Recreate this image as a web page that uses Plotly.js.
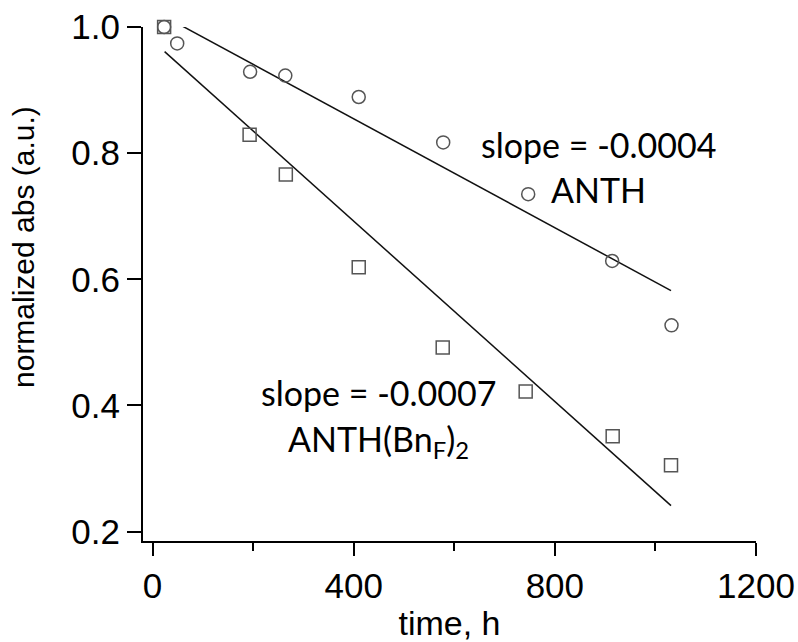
<!DOCTYPE html>
<html>
<head>
<meta charset="utf-8">
<script src="https://cdn.plot.ly/plotly-3.0.1.min.js"></script>
<style>html,body{margin:0;padding:0;background:#fff;}#chart{width:798px;height:642px;}</style>
</head>
<body>
<div id="chart"></div>
<script>
// ANTH (circles)
var anthTime = [23, 49, 194, 264, 410, 578, 747, 914, 1032];
var anthAbs  = [1.0, 0.974, 0.929, 0.923, 0.889, 0.817, 0.735, 0.629, 0.527];
// ANTH(BnF)2 (squares)
var bnfTime = [23, 193, 265, 410, 577, 742, 915, 1031];
var bnfAbs  = [1.0, 0.829, 0.766, 0.619, 0.492, 0.422, 0.351, 0.305];
// linear fit lines (end points)
var anthFitTime = [58, 1031];
var anthFitAbs  = [1.002, 0.582];
var bnfFitTime  = [24, 1031];
var bnfFitAbs   = [0.961, 0.241];
// axis ticks
var xTickVals = [0, 400, 800, 1200];
var xMinorVals = [200, 600, 1000];
var yTickVals = [0.2, 0.4, 0.6, 0.8, 1.0];
// labels
var xTitle = "time, h";
var yTitle = "normalized abs (a.u.)";
var anthSlopeText = "slope = -0.0004";
var anthName = "ANTH";
var bnfSlopeText = "slope = -0.0007";
var bnfName = "ANTH(Bn<sub>F</sub>)<sub>2</sub>";

var markerColor = "#555555";
var traces = [
  {x: anthFitTime, y: anthFitAbs, mode: "lines", line: {color: "#111", width: 1.5}, cliponaxis: false, showlegend: false},
  {x: bnfFitTime, y: bnfFitAbs, mode: "lines", line: {color: "#111", width: 1.5}, cliponaxis: false, showlegend: false},
  {x: anthTime, y: anthAbs, mode: "markers", cliponaxis: false, showlegend: false,
   marker: {symbol: "circle-open", size: 13, color: markerColor, line: {width: 1.5, color: markerColor}}},
  {x: bnfTime, y: bnfAbs, mode: "markers", cliponaxis: false, showlegend: false,
   marker: {symbol: "square-open", size: 13, color: markerColor, line: {width: 1.5, color: markerColor}}}
];

var sansFam = "Arial, 'Liberation Sans', sans-serif";
var tickFont = {family: sansFam, size: 35, color: "#000"};
var annFont = {family: "Lato, sans-serif", size: 34, color: "#000"};

var layout = {
  width: 798, height: 642,
  margin: {l: 143, r: 42, t: 27, b: 101},
  paper_bgcolor: "#fff", plot_bgcolor: "#fff",
  showlegend: false,
  xaxis: {
    range: [-19, 1200], tickvals: xTickVals, ticktext: xTickVals.map(String),
    showgrid: false, zeroline: false, showline: true, linecolor: "#000", linewidth: 2,
    ticks: "outside", ticklen: 13, tickwidth: 2, tickcolor: "#000",
    minor: {tickvals: xMinorVals, ticks: "outside", ticklen: 8, tickwidth: 2, tickcolor: "#000", showgrid: false},
    tickfont: tickFont,
    title: {text: xTitle, font: {family: sansFam, size: 34, color: "#000"}, standoff: 10},
    automargin: false
  },
  yaxis: {
    range: [0.185, 1.0], tickvals: yTickVals, ticktext: yTickVals.map(function(v){return v.toFixed(1);}),
    showgrid: false, zeroline: false, showline: true, linecolor: "#000", linewidth: 2,
    ticks: "outside", ticklen: 14, tickwidth: 2, tickcolor: "#000",
    tickfont: tickFont,
    automargin: false
  },
  annotations: [
    {xref: "paper", yref: "paper", x: 0, y: 0.572, xshift: -119, xanchor: "center", yanchor: "middle",
     text: yTitle, textangle: -90, showarrow: false, font: {family: sansFam, size: 30, color: "#000"}},
    {x: 886, y: 0.814, xref: "x", yref: "y", text: anthSlopeText, showarrow: false, font: annFont, xanchor: "center"},
    {x: 886, y: 0.743, xref: "x", yref: "y", text: anthName, showarrow: false, font: annFont, xanchor: "center"},
    {x: 449, y: 0.421, xref: "x", yref: "y", text: bnfSlopeText, showarrow: false, font: annFont, xanchor: "center"},
    {x: 449, y: 0.343, xref: "x", yref: "y", text: bnfName, showarrow: false, font: annFont, xanchor: "center"}
  ]
};

Plotly.newPlot("chart", traces, layout, {staticPlot: true, displayModeBar: false});
</script>
</body>
</html>
